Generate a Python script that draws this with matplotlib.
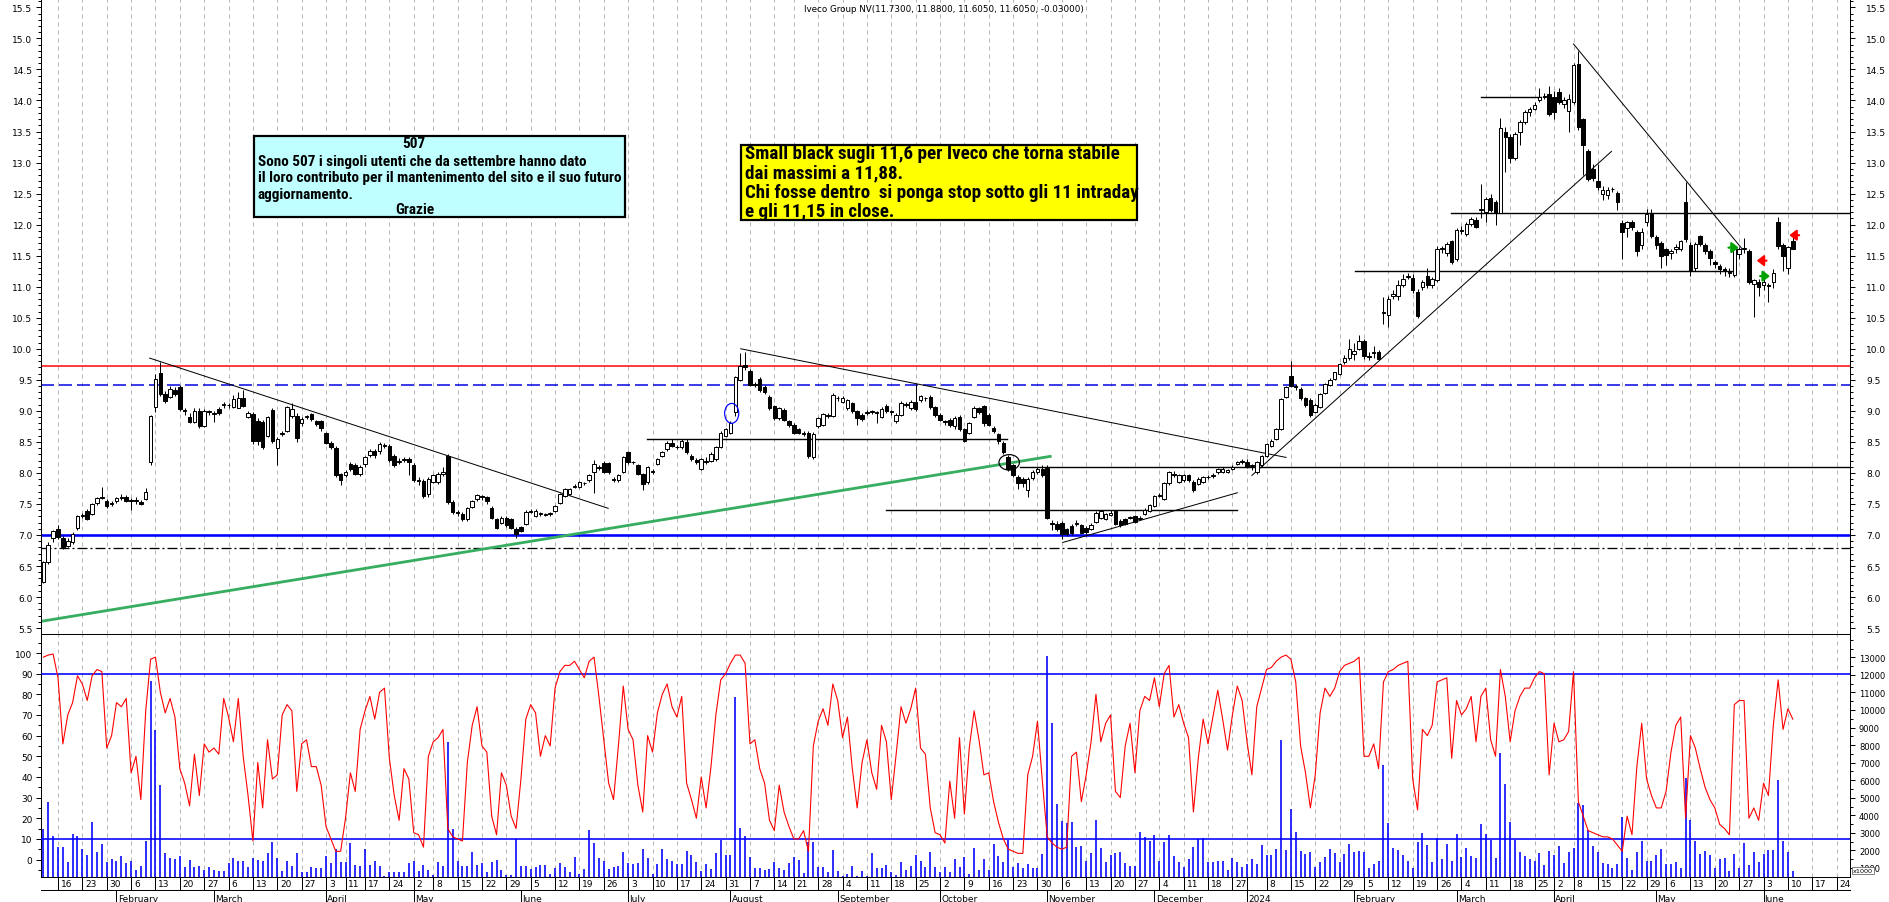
import numpy as np
import pandas as pd
import matplotlib
matplotlib.use("Agg")
import matplotlib.pyplot as plt
from matplotlib import font_manager as fm
from matplotlib.patches import Rectangle, Ellipse
from matplotlib.lines import Line2D
from matplotlib.transforms import blended_transform_factory
from matplotlib.ticker import MultipleLocator, FormatStrFormatter, FixedLocator

# ---------------------------------------------------------------- data
START = "2023-01-11"
AXIS_END = "2024-06-28"
HOLIDAYS = ["2023-04-07", "2023-04-10", "2023-05-01", "2023-08-15", "2023-12-25",
            "2023-12-26", "2024-01-01", "2024-03-29", "2024-04-01", "2024-05-01"]

OPEN = [
    6.25, 6.56, 6.95,
    7.10, 6.95, 6.83, 6.89, 7.11,  7.31, 7.39, 7.34, 7.52, 7.60,
    7.54, 7.50, 7.55, 7.60, 7.61,  7.56, 7.55, 7.53, 7.58, 8.17,
    9.06, 9.61, 9.27, 9.22, 9.34,  9.39, 9.01, 8.90, 8.82, 9.00,
    8.76, 8.98, 8.95, 9.03, 9.10,  9.09, 9.06, 9.05, 9.21, 8.90,
    8.95, 8.83, 8.82, 8.60, 9.01,  8.40, 8.62, 8.68, 8.91, 8.92,
    8.80, 8.90, 8.95, 8.84, 8.83,  8.64, 8.49, 8.40, 7.98,
    7.97, 8.15, 8.13, 7.98,  8.14, 8.29, 8.35, 8.36, 8.44,
    8.44, 8.28, 8.17, 8.21, 8.22,  8.13, 7.88, 7.87, 7.66,
    7.86, 7.85, 7.98, 8.28, 7.53,  7.37, 7.34, 7.26, 7.45, 7.58,
    7.62, 7.61, 7.43, 7.26, 7.20,  7.28, 7.26, 7.10, 7.13, 7.18,
    7.37, 7.31, 7.34, 7.33, 7.34,  7.39, 7.52, 7.63, 7.66, 7.78,
    7.77, 7.84, 7.88, 8.01, 8.08,  8.16, 8.16, 7.90, 7.89, 8.02,
    8.33, 8.17, 8.13, 7.98, 7.85,  8.02, 8.14, 8.28, 8.39, 8.49,
    8.41, 8.41, 8.50, 8.28, 8.21,  8.07, 8.18, 8.20, 8.22, 8.42,
    8.60, 8.65, 8.98, 9.50, 9.74,  9.65, 9.43, 9.52, 9.38, 9.22,
    9.08, 8.89, 9.02, 8.83,  8.77, 8.70, 8.64, 8.65, 8.25,
    8.75, 8.78, 8.93, 8.92, 9.21,  9.15, 9.04, 9.12, 8.99, 8.93,
    8.96, 8.98, 8.97, 8.90, 9.08,  8.98, 8.84, 8.93, 9.10, 9.05,
    9.14, 9.17, 9.20, 9.22, 9.06,  8.94, 8.84, 8.86, 8.76, 8.90,
    8.71, 8.65, 8.90, 9.04, 9.08,  8.94, 8.72, 8.62, 8.49, 8.26,
    8.12, 7.93, 7.90, 7.72, 7.92,  8.01, 8.07, 8.08, 7.20, 7.18,
    7.20, 7.10, 7.15, 7.18, 7.16,  7.12, 7.10, 7.21, 7.28, 7.26,
    7.32, 7.38, 7.23, 7.26, 7.27,  7.31, 7.26, 7.34, 7.39, 7.47,
    7.63, 7.58, 7.83, 7.97, 7.85,  7.88, 7.96, 7.86, 7.82, 7.85,
    7.93, 7.95, 8.01, 8.02, 8.02,  8.07, 8.14, 8.18,
    8.18, 8.11, 8.01, 8.12,  8.27, 8.44, 8.55, 8.71, 9.22,
    9.56, 9.40, 9.35, 9.20, 9.17,  8.98, 9.07, 9.29, 9.42, 9.51,
    9.59, 9.79, 9.85, 9.92, 10.00,  10.13, 9.88, 9.93, 9.95, 10.58,
    10.54, 10.85, 10.85, 11.03, 11.16,  11.14, 10.92, 10.99, 11.18, 11.02,
    11.10, 11.61, 11.55, 11.73, 11.45,  11.90, 11.85, 12.01, 12.08, 12.24,
    12.20, 12.43, 12.36, 12.19, 13.49,  13.41, 13.07, 13.50, 13.65, 13.81,
    13.87, 14.00, 14.08, 14.11,  14.05, 14.13, 13.94, 13.83,
    13.98, 14.59, 13.70, 13.18, 12.89,  12.71, 12.49, 12.48, 12.57, 12.51,
    12.03, 11.94, 12.05, 11.88, 11.67,  12.04, 12.17, 11.80, 11.70,
    11.60, 11.55, 11.60, 11.61, 12.36,  11.67, 11.30, 11.81, 11.67, 11.58,
    11.40, 11.34, 11.28, 11.24, 11.19,  11.53, 11.61, 11.58, 11.04, 11.08,
    11.03, 11.03, 11.08, 12.05, 11.67,  11.30, 11.73]

HIGH = [
    6.58, 6.88, 7.08,
    7.16, 6.98, 6.95, 7.05, 7.32,  7.36, 7.42, 7.52, 7.62, 7.77,
    7.58, 7.55, 7.62, 7.66, 7.64,  7.60, 7.62, 7.56, 7.76, 8.93,
    9.60, 9.79, 9.32, 9.40, 9.38,  9.42, 9.05, 8.96, 9.04, 9.05,
    9.03, 9.02, 8.99, 9.06, 9.14,  9.13, 9.25, 9.30, 9.34, 9.00,
    8.98, 8.88, 8.86, 8.92, 9.05,  8.58, 8.68, 9.08, 9.12, 8.96,
    8.90, 8.94, 8.97, 8.86, 8.85,  8.66, 8.52, 8.43, 8.00,
    8.04, 8.18, 8.16, 8.12,  8.27, 8.39, 8.38, 8.50, 8.48,
    8.47, 8.30, 8.24, 8.26, 8.25,  8.16, 7.93, 7.90, 7.93,
    7.99, 8.01, 8.10, 8.30, 7.56,  7.40, 7.37, 7.45, 7.57, 7.66,
    7.65, 7.63, 7.46, 7.28, 7.30,  7.31, 7.28, 7.13, 7.15, 7.40,
    7.42, 7.42, 7.37, 7.36, 7.37,  7.49, 7.68, 7.76, 7.76, 7.82,
    7.87, 7.86, 7.98, 8.21, 8.12,  8.20, 8.18, 7.93, 7.99, 8.28,
    8.36, 8.20, 8.15, 8.00, 8.11,  8.06, 8.24, 8.36, 8.51, 8.55,
    8.45, 8.54, 8.54, 8.31, 8.24,  8.24, 8.26, 8.34, 8.44, 8.67,
    8.72, 8.84, 9.56, 9.93, 9.95,  9.68, 9.46, 9.55, 9.42, 9.25,
    9.10, 9.07, 9.05, 8.86,  8.80, 8.73, 8.67, 8.68, 8.66,
    8.90, 8.97, 8.96, 9.28, 9.24,  9.24, 9.19, 9.15, 9.02, 8.96,
    9.02, 9.01, 9.00, 9.06, 9.11,  9.01, 8.96, 9.16, 9.14, 9.17,
    9.43, 9.26, 9.23, 9.25, 9.08,  8.97, 8.86, 8.88, 8.91, 8.93,
    8.73, 8.82, 9.08, 9.07, 9.10,  8.96, 8.75, 8.64, 8.52, 8.29,
    8.15, 7.96, 7.93, 7.93, 8.04,  8.09, 8.12, 8.12, 7.24, 7.22,
    7.23, 7.12, 7.17, 7.24, 7.18,  7.14, 7.19, 7.38, 7.41, 7.36,
    7.40, 7.40, 7.25, 7.28, 7.31,  7.33, 7.30, 7.43, 7.50, 7.65,
    7.68, 7.85, 8.03, 8.03, 7.98,  7.98, 7.98, 7.88, 7.93, 7.95,
    7.97, 8.00, 8.08, 8.09, 8.07,  8.12, 8.20, 8.22,
    8.22, 8.14, 8.20, 8.29,  8.48, 8.55, 8.73, 9.21, 9.40,
    9.81, 9.43, 9.38, 9.23, 9.20,  9.13, 9.29, 9.45, 9.53, 9.63,
    9.77, 9.90, 10.16, 10.10, 10.22,  10.16, 9.95, 10.05, 9.98, 10.83,
    10.85, 10.95, 11.10, 11.20, 11.22,  11.20, 10.96, 11.10, 11.30, 11.15,
    11.66, 11.66, 11.72, 11.76, 11.95,  11.98, 12.05, 12.12, 12.12, 12.66,
    12.45, 12.50, 12.40, 13.72, 13.58,  13.46, 13.50, 13.68, 13.84, 13.90,
    13.97, 14.20, 14.12, 14.23,  14.15, 14.20, 14.05, 14.10,
    14.60, 14.80, 13.72, 13.22, 12.97,  12.98, 12.62, 12.60, 12.61, 12.54,
    12.08, 12.06, 12.08, 11.92, 11.95,  12.25, 12.25, 11.83, 11.73,
    11.62, 11.60, 11.68, 11.75, 12.68,  11.72, 11.72, 11.84, 11.70, 11.60,
    11.43, 11.36, 11.32, 11.30, 11.66,  11.64, 11.78, 11.60, 11.12, 11.12,
    11.20, 11.06, 11.28, 12.13, 11.70,  11.66, 11.88]

LOW = [
    6.22, 6.54, 6.88,
    6.94, 6.78, 6.80, 6.86, 7.08,  7.27, 7.24, 7.32, 7.49, 7.58,
    7.43, 7.46, 7.52, 7.56, 7.53,  7.41, 7.50, 7.48, 7.56, 8.13,
    8.98, 9.24, 9.12, 9.20, 9.24,  9.00, 8.94, 8.80, 8.80, 8.72,
    8.74, 8.94, 8.82, 8.94, 9.04,  9.05, 9.04, 9.04, 9.06, 8.88,
    8.47, 8.45, 8.38, 8.58, 8.48,  8.13, 8.60, 8.66, 8.88, 8.50,
    8.76, 8.87, 8.84, 8.76, 8.68,  8.46, 8.38, 7.94, 7.80,
    7.93, 8.03, 7.96, 7.95,  8.10, 8.26, 8.24, 8.30, 8.40,
    8.18, 8.10, 8.14, 8.17, 7.96,  7.86, 7.80, 7.60, 7.62,
    7.84, 7.82, 7.95, 7.50, 7.34,  7.31, 7.23, 7.23, 7.43, 7.55,
    7.57, 7.50, 7.25, 7.10, 7.17,  7.13, 7.10, 6.95, 7.05, 7.16,
    7.35, 7.29, 7.31, 7.30, 7.31,  7.37, 7.50, 7.61, 7.64, 7.75,
    7.75, 7.80, 7.86, 7.68, 8.04,  8.00, 7.99, 7.86, 7.86, 8.00,
    8.15, 8.14, 7.96, 7.72, 7.82,  7.99, 8.12, 8.26, 8.36, 8.41,
    8.38, 8.38, 8.30, 8.19, 8.15,  8.04, 8.14, 8.18, 8.20, 8.40,
    8.58, 8.63, 8.92, 9.48, 9.66,  9.40, 9.38, 9.30, 9.27, 9.02,
    8.86, 8.86, 8.83, 8.74,  8.62, 8.62, 8.60, 8.24, 8.23,
    8.72, 8.76, 8.88, 8.90, 9.16,  9.12, 9.02, 8.96, 8.78, 8.84,
    8.93, 8.95, 8.80, 8.88, 8.96,  8.94, 8.80, 8.91, 9.06, 9.02,
    9.00, 9.15, 9.16, 9.03, 8.90,  8.83, 8.78, 8.74, 8.70, 8.68,
    8.50, 8.62, 8.88, 8.95, 8.76,  8.75, 8.64, 8.46, 8.30, 8.03,
    7.93, 7.74, 7.78, 7.62, 7.88,  7.98, 7.93, 7.25, 7.08, 7.06,
    6.93, 6.98, 7.00, 7.15, 7.01,  7.02, 7.08, 7.19, 7.26, 7.24,
    7.30, 7.16, 7.13, 7.16, 7.25,  7.19, 7.24, 7.32, 7.37, 7.45,
    7.61, 7.56, 7.81, 7.94, 7.83,  7.86, 7.86, 7.70, 7.80, 7.83,
    7.90, 7.92, 7.99, 8.00, 8.00,  8.04, 8.12, 8.15,
    8.08, 8.05, 7.98, 8.10,  8.25, 8.42, 8.53, 8.69, 9.20,
    9.38, 9.33, 9.17, 9.06, 8.90,  8.96, 9.05, 9.27, 9.40, 9.49,
    9.57, 9.76, 9.82, 9.82, 9.98,  9.83, 9.82, 9.85, 9.82, 10.40,
    10.35, 10.80, 10.78, 11.00, 11.12,  10.90, 10.50, 10.95, 10.98, 10.98,
    11.08, 11.55, 11.50, 11.36, 11.42,  11.85, 11.82, 11.98, 11.94, 12.10,
    12.05, 12.20, 12.00, 12.18, 12.85,  13.00, 13.04, 13.28, 13.62, 13.75,
    13.84, 13.97, 14.03, 13.75,  13.70, 13.95, 13.88, 13.50,
    13.95, 13.52, 12.80, 12.70, 12.70,  12.55, 12.40, 12.42, 12.52, 12.24,
    11.45, 11.80, 11.92, 11.50, 11.60,  11.98, 11.78, 11.60, 11.30,
    11.35, 11.45, 11.55, 11.58, 11.72,  11.18, 11.25, 11.65, 11.52, 11.35,
    11.30, 11.20, 11.18, 11.16, 11.15,  11.45, 11.55, 11.05, 10.51, 10.85,
    10.95, 10.76, 10.98, 11.60, 11.25,  11.20, 11.605]

CLOSE = [
    6.56, 6.84, 7.06,
    6.96, 6.80, 6.91, 7.02, 7.30,  7.33, 7.26, 7.50, 7.60, 7.62,
    7.46, 7.51, 7.60, 7.61, 7.55,  7.55, 7.56, 7.50, 7.70, 8.91,
    9.51, 9.27, 9.16, 9.35, 9.27,  9.03, 9.00, 8.82, 9.00, 8.76,
    9.00, 8.98, 8.95, 8.96, 9.11,  9.09, 9.19, 9.20, 9.08, 8.96,
    8.52, 8.52, 8.41, 8.90, 8.51,  8.55, 8.65, 9.06, 9.03, 8.57,
    8.87, 8.92, 8.87, 8.79, 8.72,  8.49, 8.41, 7.96, 7.88,
    8.01, 8.06, 7.98, 8.10,  8.25, 8.35, 8.29, 8.46, 8.44,
    8.21, 8.12, 8.20, 8.21, 8.17,  7.88, 7.87, 7.63, 7.90,
    7.96, 7.98, 8.02, 7.53, 7.37,  7.35, 7.26, 7.43, 7.55, 7.64,
    7.61, 7.54, 7.28, 7.12, 7.28,  7.16, 7.12, 7.02, 7.07, 7.37,
    7.39, 7.39, 7.34, 7.34, 7.35,  7.47, 7.66, 7.74, 7.74, 7.79,
    7.85, 7.83, 7.96, 8.15, 8.08,  8.02, 8.01, 7.89, 7.97, 8.26,
    8.17, 8.17, 7.98, 7.82, 8.09,  8.03, 8.22, 8.34, 8.49, 8.44,
    8.41, 8.52, 8.33, 8.22, 8.17,  8.22, 8.20, 8.30, 8.42, 8.65,
    8.70, 8.81, 9.54, 9.73, 9.70,  9.42, 9.41, 9.33, 9.30, 9.05,
    8.89, 9.04, 8.86, 8.77,  8.65, 8.65, 8.63, 8.27, 8.63,
    8.88, 8.95, 8.92, 9.25, 9.20,  9.20, 9.17, 8.99, 8.88, 8.87,
    8.98, 8.98, 8.97, 9.03, 8.99,  8.98, 8.93, 9.13, 9.10, 9.14,
    9.03, 9.24, 9.20, 9.06, 8.93,  8.86, 8.82, 8.77, 8.89, 8.71,
    8.52, 8.80, 9.04, 8.98, 8.80,  8.78, 8.67, 8.51, 8.33, 8.06,
    7.96, 7.83, 7.84, 7.90, 8.01,  8.07, 7.96, 7.27, 7.18, 7.10,
    7.02, 7.02, 7.04, 7.20, 7.04,  7.05, 7.16, 7.36, 7.39, 7.34,
    7.36, 7.18, 7.16, 7.18, 7.29,  7.21, 7.28, 7.41, 7.48, 7.63,
    7.65, 7.83, 8.01, 7.98, 7.96,  7.96, 7.88, 7.72, 7.91, 7.93,
    7.94, 7.96, 8.06, 8.07, 8.05,  8.10, 8.18, 8.19,
    8.10, 8.12, 8.18, 8.27,  8.46, 8.52, 8.71, 9.19, 9.38,
    9.40, 9.38, 9.20, 9.09, 8.93,  9.10, 9.27, 9.43, 9.50, 9.62,
    9.75, 9.85, 10.00, 9.96, 10.13,  9.88, 9.86, 9.95, 9.84, 10.60,
    10.80, 10.88, 11.03, 11.12, 11.18,  10.94, 10.53, 11.07, 11.02, 11.12,
    11.61, 11.63, 11.69, 11.39, 11.91,  11.92, 12.01, 12.09, 11.96, 12.25,
    12.41, 12.24, 12.19, 13.55, 13.41,  13.07, 13.46, 13.65, 13.81, 13.86,
    13.93, 14.05, 14.05, 13.78,  13.81, 13.98, 14.00, 14.02,
    14.57, 13.57, 13.29, 12.74, 12.75,  12.60, 12.56, 12.56, 12.57, 12.36,
    11.88, 12.04, 11.96, 11.57, 11.88,  12.17, 11.81, 11.67, 11.50,
    11.51, 11.57, 11.64, 11.73, 11.77,  11.26, 11.69, 11.69, 11.58, 11.46,
    11.37, 11.29, 11.26, 11.22, 11.61,  11.61, 11.61, 11.07, 11.10, 10.99,
    11.07, 11.01, 11.22, 11.66, 11.49,  11.64, 11.605]

STOCH = [
    98, 99, 99.5, 88, 56, 70, 76, 89, 85, 77,
    89, 92, 91, 54, 60, 76, 74, 78, 42, 50,
    29, 72, 97, 98, 81, 71, 78, 69, 44, 37,
    26, 51, 31, 56, 52, 54, 51, 78, 69, 57,
    78, 50, 31, 9, 47, 25, 58, 39, 41, 70,
    75, 72, 33, 56, 58, 45, 45, 36, 16, 10,
    4, 4, 20, 42, 33, 63, 72, 79, 68, 81,
    83, 49, 31, 19, 44, 39, 13, 12, 6, 50,
    57, 59, 63, 15, 11, 10, 9, 47, 65, 74,
    55, 52, 21, 12, 42, 36, 21, 15, 39, 68,
    75, 71, 50, 60, 55, 83, 91, 94, 94, 96,
    92, 88, 96, 98, 79, 58, 37, 29, 55, 84,
    63, 58, 36, 23, 60, 52, 71, 80, 85, 74,
    69, 79, 37, 29, 20, 40, 25, 45, 70, 87,
    90, 95, 99, 99, 95, 56, 58, 44, 37, 19,
    14, 36, 23, 16, 10, 10, 14, 4, 55, 67,
    73, 65, 85, 77, 59, 69, 44, 25, 47, 58,
    42, 34, 65, 57, 29, 51, 74, 66, 73, 83,
    54, 51, 25, 13, 12, 8, 38, 20, 59, 22,
    54, 72, 58, 41, 42, 28, 18, 10, 5, 4,
    3, 3, 41, 50, 67, 38, 11, 8, 6, 5,
    6, 50, 52, 28, 41, 57, 80, 57, 66, 70,
    33, 30, 55, 66, 42, 72, 79, 77, 88, 74,
    90, 94, 69, 75, 66, 59, 23, 49, 68, 56,
    69, 82, 68, 53, 70, 84, 77, 57, 41, 74,
    83, 92, 93, 96, 98, 99, 97, 86, 55, 42,
    25, 41, 71, 83, 79, 83, 91, 94, 95, 96,
    98, 50, 50, 56, 44, 86, 91, 92, 94, 95,
    96, 39, 24, 63, 60, 65, 86, 87, 88, 49,
    77, 70, 73, 79, 57, 79, 83, 58, 50, 92,
    79, 57, 72, 79, 83, 83, 88, 91, 90, 41,
    66, 57, 58, 62, 91, 28, 21, 14, 13, 12,
    11, 11, 10, 7, 4, 21, 12, 45, 66, 39,
    31, 25, 25, 33, 52, 65, 69, 20, 60, 54,
    44, 35, 29, 25, 17, 15, 12, 75, 77, 77,
    20, 25, 19, 37, 31, 65, 87, 63, 73, 68]

VOLUME_K = [
    3222, 4741, 2842, 2177, 2177, 1323, 2937, 2842, 2082, 1740,
    3640, 1930, 2367, 1323, 1513, 1418, 1665, 1285, 1418, 905,
    1133, 2538, 11673, 8881, 5728, 1855, 1551, 1513, 1665, 1076,
    1456, 1057, 1114, 905, 1038, 886, 829, 810, 1285, 1551,
    1380, 1380, 1076, 1589, 1456, 1380, 1836, 2500, 1589, 829,
    1380, 1114, 1855, 791, 753, 1076, 1000, 1000, 1665, 1285,
    2082, 1361, 1323, 2424, 1190, 1133, 2082, 1171, 1380, 1114,
    563, 753, 753, 791, 791, 1285, 1380, 829, 1190, 905,
    601, 1323, 1114, 8197, 3222, 1380, 1114, 1133, 1930, 1171,
    1285, 791, 1323, 1456, 905, 620, 601, 2633, 1114, 1114,
    943, 1076, 1171, 1190, 639, 981, 1285, 1076, 753, 1608,
    639, 943, 3184, 2424, 1589, 1380, 943, 1057, 1114, 1930,
    1285, 1228, 1285, 2082, 1589, 658, 1228, 2082, 1513, 1418,
    1228, 1228, 1969, 1740, 1323, 810, 1228, 943, 1855, 2614,
    1740, 1760, 10761, 3279, 2823, 1608, 1000, 1000, 905, 943,
    1361, 1000, 905, 1285, 1646, 1475, 715, 2500, 2462, 1076,
    1038, 791, 2044, 810, 563, 658, 1114, 563, 810, 563,
    1855, 1000, 981, 1171, 753, 601, 1323, 905, 1095, 1740,
    1418, 1076, 1930, 1076, 791, 1038, 753, 1513, 1076, 1646,
    658, 2139, 905, 1513, 905, 2367, 1665, 1361, 2614, 1076,
    1285, 1019, 1209, 981, 1019, 1798, 13097, 9260, 4646, 3697,
    3564, 3602, 2177, 2253, 1418, 1855, 3735, 2139, 1361, 1740,
    1855, 1893, 1285, 1114, 1095, 3070, 2747, 2557, 2880, 1380,
    2500, 2880, 1665, 1323, 1038, 1513, 2196, 2652, 2709, 1361,
    1323, 1380, 1418, 905, 1551, 1323, 1038, 1228, 1513, 1228,
    2310, 1740, 1740, 2082, 8292, 2025, 4361, 3070, 1988, 1798,
    1930, 1076, 1361, 1608, 2082, 1855, 1323, 1798, 2367, 1893,
    1988, 1893, 1019, 1209, 1418, 6868, 3545, 2120, 2044, 1740,
    1380, 1000, 2500, 3013, 2310, 1361, 2728, 1513, 2367, 1380,
    2956, 1608, 2120, 1703, 1570, 3526, 2956, 2614, 1570, 7533,
    5785, 3640, 2614, 1930, 1703, 1513, 1418, 1855, 1171, 1988,
    1740, 2272, 1266, 1930, 2139, 4684, 4589, 3146, 2272, 1893,
    1285, 1228, 981, 1209, 3925, 1589, 905, 1893, 2557, 1418,
    1418, 1760, 2082, 1228, 1228, 1361, 1019, 6127, 3754, 2557,
    1798, 1988, 1740, 1019, 1513, 1570, 848, 1798, 1019, 2424,
    1171, 1893, 1361, 1798, 2044, 2025, 6032, 2557, 1893, 848]

TITLE = "Iveco Group NV(11.7300, 11.8800, 11.6050, 11.6050, -0.03000)"
NOTE_CYAN_HEAD = "507"
NOTE_CYAN = ["Sono 507 i singoli utenti che da settembre hanno dato",
             "il loro contributo per il mantenimento del sito e il suo futuro",
             "aggiornamento."]
NOTE_CYAN_TAIL = "Grazie"
NOTE_YELLOW = ["Small black sugli 11,6 per Iveco che torna stabile",
               "dai massimi a 11,88.",
               "Chi fosse dentro  si ponga stop sotto gli 11 intraday",
               "e gli 11,15 in close."]

# horizontal levels (price)
RED_LEVEL, BLUE_DASH_LEVEL, BLUE_LEVEL, DASHDOT_LEVEL = 9.73, 9.42, 7.00, 6.79
STOCH_BANDS = [90, 10]
VOL_TICKS = list(range(1000, 14000, 1000))
# drawn trendlines: (trading-day index, price) pairs
TRENDLINES = [((21.8, 9.85), (115.9, 7.43)), ((143.1, 10.0), (255.0, 8.25)),
              ((209.2, 6.88), (245.0, 7.68)), ((248.0, 7.96), (321.8, 13.18)),
              ((314.0, 14.91), (348.6, 11.61))]
GREEN_TREND = ((-0.4, 5.61), (206.9, 8.27))
H_SEGMENTS = [(8.54, 123.9, 197.8), (8.09, 200.5, 371.0), (7.41, 173.0, 245.0),
              (14.05, 295.1, 307.3), (12.18, 288.8, 371.0), (11.25, 269.1, 346.7)]
ARROWS = [(345.8, 347.9, 11.63, "#00a000"), (352.3, 354.3, 11.17, "#00a000"),
          (353.6, 351.6, 11.42, "#ff0000"), (360.3, 358.3, 11.83, "#ff0000")]

X_LIM = (-0.386, 370.74)
PRICE_LIM = (5.405, 15.635)
STOCH_LIM = (-8.3, 109.2)
VOL_LIM = (504, 14327)

n = len(CLOSE)
assert len(OPEN) == len(HIGH) == len(LOW) == n == len(STOCH) == len(VOLUME_K)

# ---------------------------------------------------------------- setup
W, H, DPI = 1890, 903, 100
PX = 72.0 / DPI
plt.rcParams["lines.scale_dashes"] = False
plt.rcParams["font.family"] = ["DejaVu Sans"]

# pick the narrowest bold-capable family available for the note boxes
NOTE_FONT, NOTE_STRETCH = "Liberation Sans", "normal"
_fonts = fm.fontManager.ttflist
_names = {f.name for f in _fonts}
for cand in ["Liberation Sans Narrow", "Arial Narrow", "Roboto Condensed",
             "Open Sans Condensed", "Noto Sans Condensed"]:
    if cand in _names:
        NOTE_FONT = cand
        break
else:
    for f in _fonts:
        if f.name in ("DejaVu Sans", "Noto Sans", "Open Sans", "Roboto") and \
                str(f.stretch) in ("condensed", "semi-condensed", "75", "87"):
            NOTE_FONT, NOTE_STRETCH = f.name, "condensed"
            break

cal = pd.bdate_range(START, AXIS_END)
cal = cal[~cal.isin(pd.to_datetime(HOLIDAYS))]
week_starts = [k for k in range(1, len(cal)) if cal[k].weekday() <= cal[k - 1].weekday()]
month_starts = [k for k in range(1, len(cal)) if cal[k].month != cal[k - 1].month]

fig = plt.figure(figsize=(W / DPI, H / DPI), dpi=DPI)
fig.patch.set_facecolor("white")


def fx(p):
    return p / W


def fy(p):
    return 1 - p / H


XL, XR = 41.5, 1850.0
Y_SEP, Y_BOT = 635.0, 877.7
ax = fig.add_axes([fx(XL), fy(Y_SEP), fx(XR) - fx(XL), 1 - fy(Y_SEP)])
axr = ax.twinx()
axl = fig.add_axes([fx(XL), fy(Y_BOT), fx(XR) - fx(XL), fy(Y_SEP) - fy(Y_BOT)], sharex=ax)
axv = axl.twinx()
axl.set_zorder(axv.get_zorder() + 1)
axl.patch.set_visible(False)

ax.set_xlim(*X_LIM)
ax.set_ylim(*PRICE_LIM)
axr.set_ylim(*PRICE_LIM)
axl.set_ylim(*STOCH_LIM)
axv.set_ylim(*VOL_LIM)

x = np.arange(n)
o, h, lo, c = (np.array(v, float) for v in (OPEN, HIGH, LOW, CLOSE))

# gridlines
for k in week_starts:
    for a in (ax, axv):
        a.axvline(k, color="#b4b4b4", lw=PX, dashes=(4 * PX, 4 * PX), zorder=0)

# price levels
ax.axhline(RED_LEVEL, color="#ff0000", lw=1.5 * PX, zorder=2)
ax.axhline(BLUE_DASH_LEVEL, color="#0000e0", lw=1.5 * PX, dashes=(13 * PX, 5 * PX), zorder=2)
ax.axhline(BLUE_LEVEL, color="#0000ff", lw=2.6 * PX, zorder=2)
ax.axhline(DASHDOT_LEVEL, color="black", lw=1.3 * PX,
           dashes=(10 * PX, 3 * PX, 2 * PX, 3 * PX), zorder=2)
(gx0, gy0), (gx1, gy1) = GREEN_TREND
ax.plot([gx0, gx1], [gy0, gy1], color="#36ad5f", lw=2.8 * PX, zorder=2.5, solid_capstyle="butt")
for (ax0, ay0), (ax1, ay1) in TRENDLINES:
    ax.plot([ax0, ax1], [ay0, ay1], color="black", lw=1.0 * PX, zorder=2.5)
for lvl, s0, s1 in H_SEGMENTS:
    ax.plot([s0, s1], [lvl, lvl], color="black", lw=1.4 * PX, zorder=2.5)

# candles
ax.vlines(x, lo, h, color="black", lw=1.0 * PX, zorder=3)
body = np.maximum(np.abs(c - o), 0.012)
ax.bar(x, body, bottom=np.minimum(o, c), width=0.72,
       color=np.where(c >= o, "white", "black"), edgecolor="black",
       linewidth=1.0 * PX, zorder=4)

ax.add_patch(Ellipse((141.25, 8.96), 2.9, 0.32, fill=False, ec="#0000ff", lw=1.2 * PX, zorder=5))
ax.add_patch(Ellipse((198.2, 8.17), 4.2, 0.25, fill=False, ec="black", lw=1.2 * PX, zorder=5))

for tx, hx, yy, col in ARROWS:
    ax.annotate("", xy=(hx, yy), xytext=(tx, yy), annotation_clip=False,
                arrowprops=dict(arrowstyle="-|>,head_length=0.45,head_width=0.35", color=col,
                                lw=2.2 * PX, shrinkA=0, shrinkB=0, mutation_scale=9), zorder=6)

# lower panel
axv.vlines(x, 0, VOLUME_K, color="#0000ff", lw=1.6 * PX, zorder=2)
for b in STOCH_BANDS:
    axl.axhline(b, color="#0000ff", lw=1.6 * PX, zorder=3)
axl.plot(x, STOCH, color="#ff0000", lw=1.1 * PX, zorder=4)

# ---------------------------------------------------------------- axes styling
LAB = 9 * PX
for a in (ax, axr, axl, axv):
    a.tick_params(axis="x", which="both", bottom=False, top=False,
                  labelbottom=False, labeltop=False)
    for s in a.spines.values():
        s.set_linewidth(1.0 * PX)
        s.set_color("black")

ax.spines["top"].set_visible(False)
axr.spines["top"].set_visible(False)
axr.spines["left"].set_visible(False)
axr.spines["bottom"].set_visible(False)
axv.spines["left"].set_visible(False)
axv.spines["top"].set_visible(False)
axv.spines["bottom"].set_visible(False)
axl.spines["right"].set_visible(False)

for a in (ax, axr):
    a.yaxis.set_major_locator(MultipleLocator(0.5))
    a.yaxis.set_minor_locator(MultipleLocator(0.1))
    a.yaxis.set_major_formatter(FormatStrFormatter("%.1f"))
axl.yaxis.set_major_locator(MultipleLocator(10))
axl.yaxis.set_minor_locator(MultipleLocator(5))
axl.yaxis.set_major_formatter(FormatStrFormatter("%d"))
axv.yaxis.set_major_locator(FixedLocator(VOL_TICKS))
axv.yaxis.set_minor_locator(MultipleLocator(500))
axv.yaxis.set_major_formatter(FormatStrFormatter("%d"))

for a in (ax, axl):
    a.tick_params(axis="y", which="major", left=True, right=False, labelleft=True,
                  labelright=False, direction="out", length=5 * PX, width=PX,
                  labelsize=LAB, pad=4 * PX)
    a.tick_params(axis="y", which="minor", left=True, right=False, direction="out",
                  length=3 * PX, width=PX)
axr.tick_params(axis="y", which="major", left=False, right=True, labelleft=False,
                labelright=True, direction="out", length=5 * PX, width=PX,
                labelsize=LAB, pad=11 * PX)
axv.tick_params(axis="y", which="major", left=False, right=True, labelleft=False,
                labelright=True, direction="out", length=5 * PX, width=PX,
                labelsize=8.4 * PX, pad=4 * PX)
for a in (axr, axv):
    a.tick_params(axis="y", which="minor", left=False, right=True, direction="out",
                  length=3 * PX, width=PX)

# ---------------------------------------------------------------- date axis
trans = blended_transform_factory(ax.transData, fig.transFigure)
prev = None
for k in week_starts:
    if k > X_LIM[1]:
        continue
    fig.add_artist(Line2D([k, k], [fy(Y_BOT), fy(891)], transform=trans, color="black", lw=PX))
    if prev is None or k - prev > 3:
        fig.text(k + 0.6, fy(885), str(cal[k].day), transform=trans, fontsize=LAB,
                 ha="left", va="center")
        prev = k
fig.add_artist(Line2D([fx(XL), fx(XR)], [fy(891), fy(891)], transform=fig.transFigure,
                      color="black", lw=PX))
for k in month_starts:
    if k > X_LIM[1]:
        continue
    fig.add_artist(Line2D([k, k], [fy(891), fy(903)], transform=trans, color="black", lw=PX))
    name = str(cal[k].year) if cal[k].month == 1 else cal[k].strftime("%B")
    fig.text(k + 0.25, fy(899.5), name, transform=trans, fontsize=LAB, ha="left", va="center")

fig.text(fx(1853), fy(871.5), "x1000", fontsize=6.5 * PX, ha="left", va="center", zorder=30,
         bbox=dict(boxstyle="square,pad=0.15", fc="white", ec="#666666", lw=0.8 * PX))

# ---------------------------------------------------------------- texts
renderer = fig.canvas.get_renderer()


def fit(texts, ref, target):
    w = ref.get_window_extent(renderer).width
    s = ref.get_fontsize() * target / w
    for t in texts:
        t.set_fontsize(s)


tt = fig.text(fx(944), fy(9), TITLE, ha="center", va="center", fontsize=7, zorder=30)
fit([tt], tt, 282)

fig.add_artist(Rectangle((fx(254), fy(218)), fx(625) - fx(254), fy(137) - fy(218),
                         transform=fig.transFigure, facecolor="#bfffff", edgecolor="black",
                         lw=2.2 * PX, zorder=20))
cy = [fig.text(fx(414), fy(144.5), NOTE_CYAN_HEAD, ha="center", va="center")]
for j, line in enumerate(NOTE_CYAN):
    cy.append(fig.text(fx(258), fy(162 + 16.3 * j), line, ha="left", va="center"))
cy.append(fig.text(fx(415), fy(210), NOTE_CYAN_TAIL, ha="center", va="center"))
for t in cy:
    t.set_family(NOTE_FONT)
    t.set_stretch(NOTE_STRETCH)
    t.set_weight("bold")
    t.set_zorder(21)
    t.set_fontsize(10)
fit(cy, cy[2], 365)

fig.add_artist(Rectangle((fx(741.5), fy(221)), fx(1136.6) - fx(741.5), fy(146) - fy(221),
                         transform=fig.transFigure, facecolor="#ffff00", edgecolor="black",
                         lw=2.2 * PX, zorder=20))
yl = []
for j, line in enumerate(NOTE_YELLOW):
    yl.append(fig.text(fx(745), fy(154.5 + 19.2 * j), line, ha="left", va="center",
                       family=NOTE_FONT, stretch=NOTE_STRETCH, weight="bold",
                       zorder=21, fontsize=11))
fit(yl, yl[2], 390)

fig.savefig("out.png", dpi=DPI, facecolor="white")
